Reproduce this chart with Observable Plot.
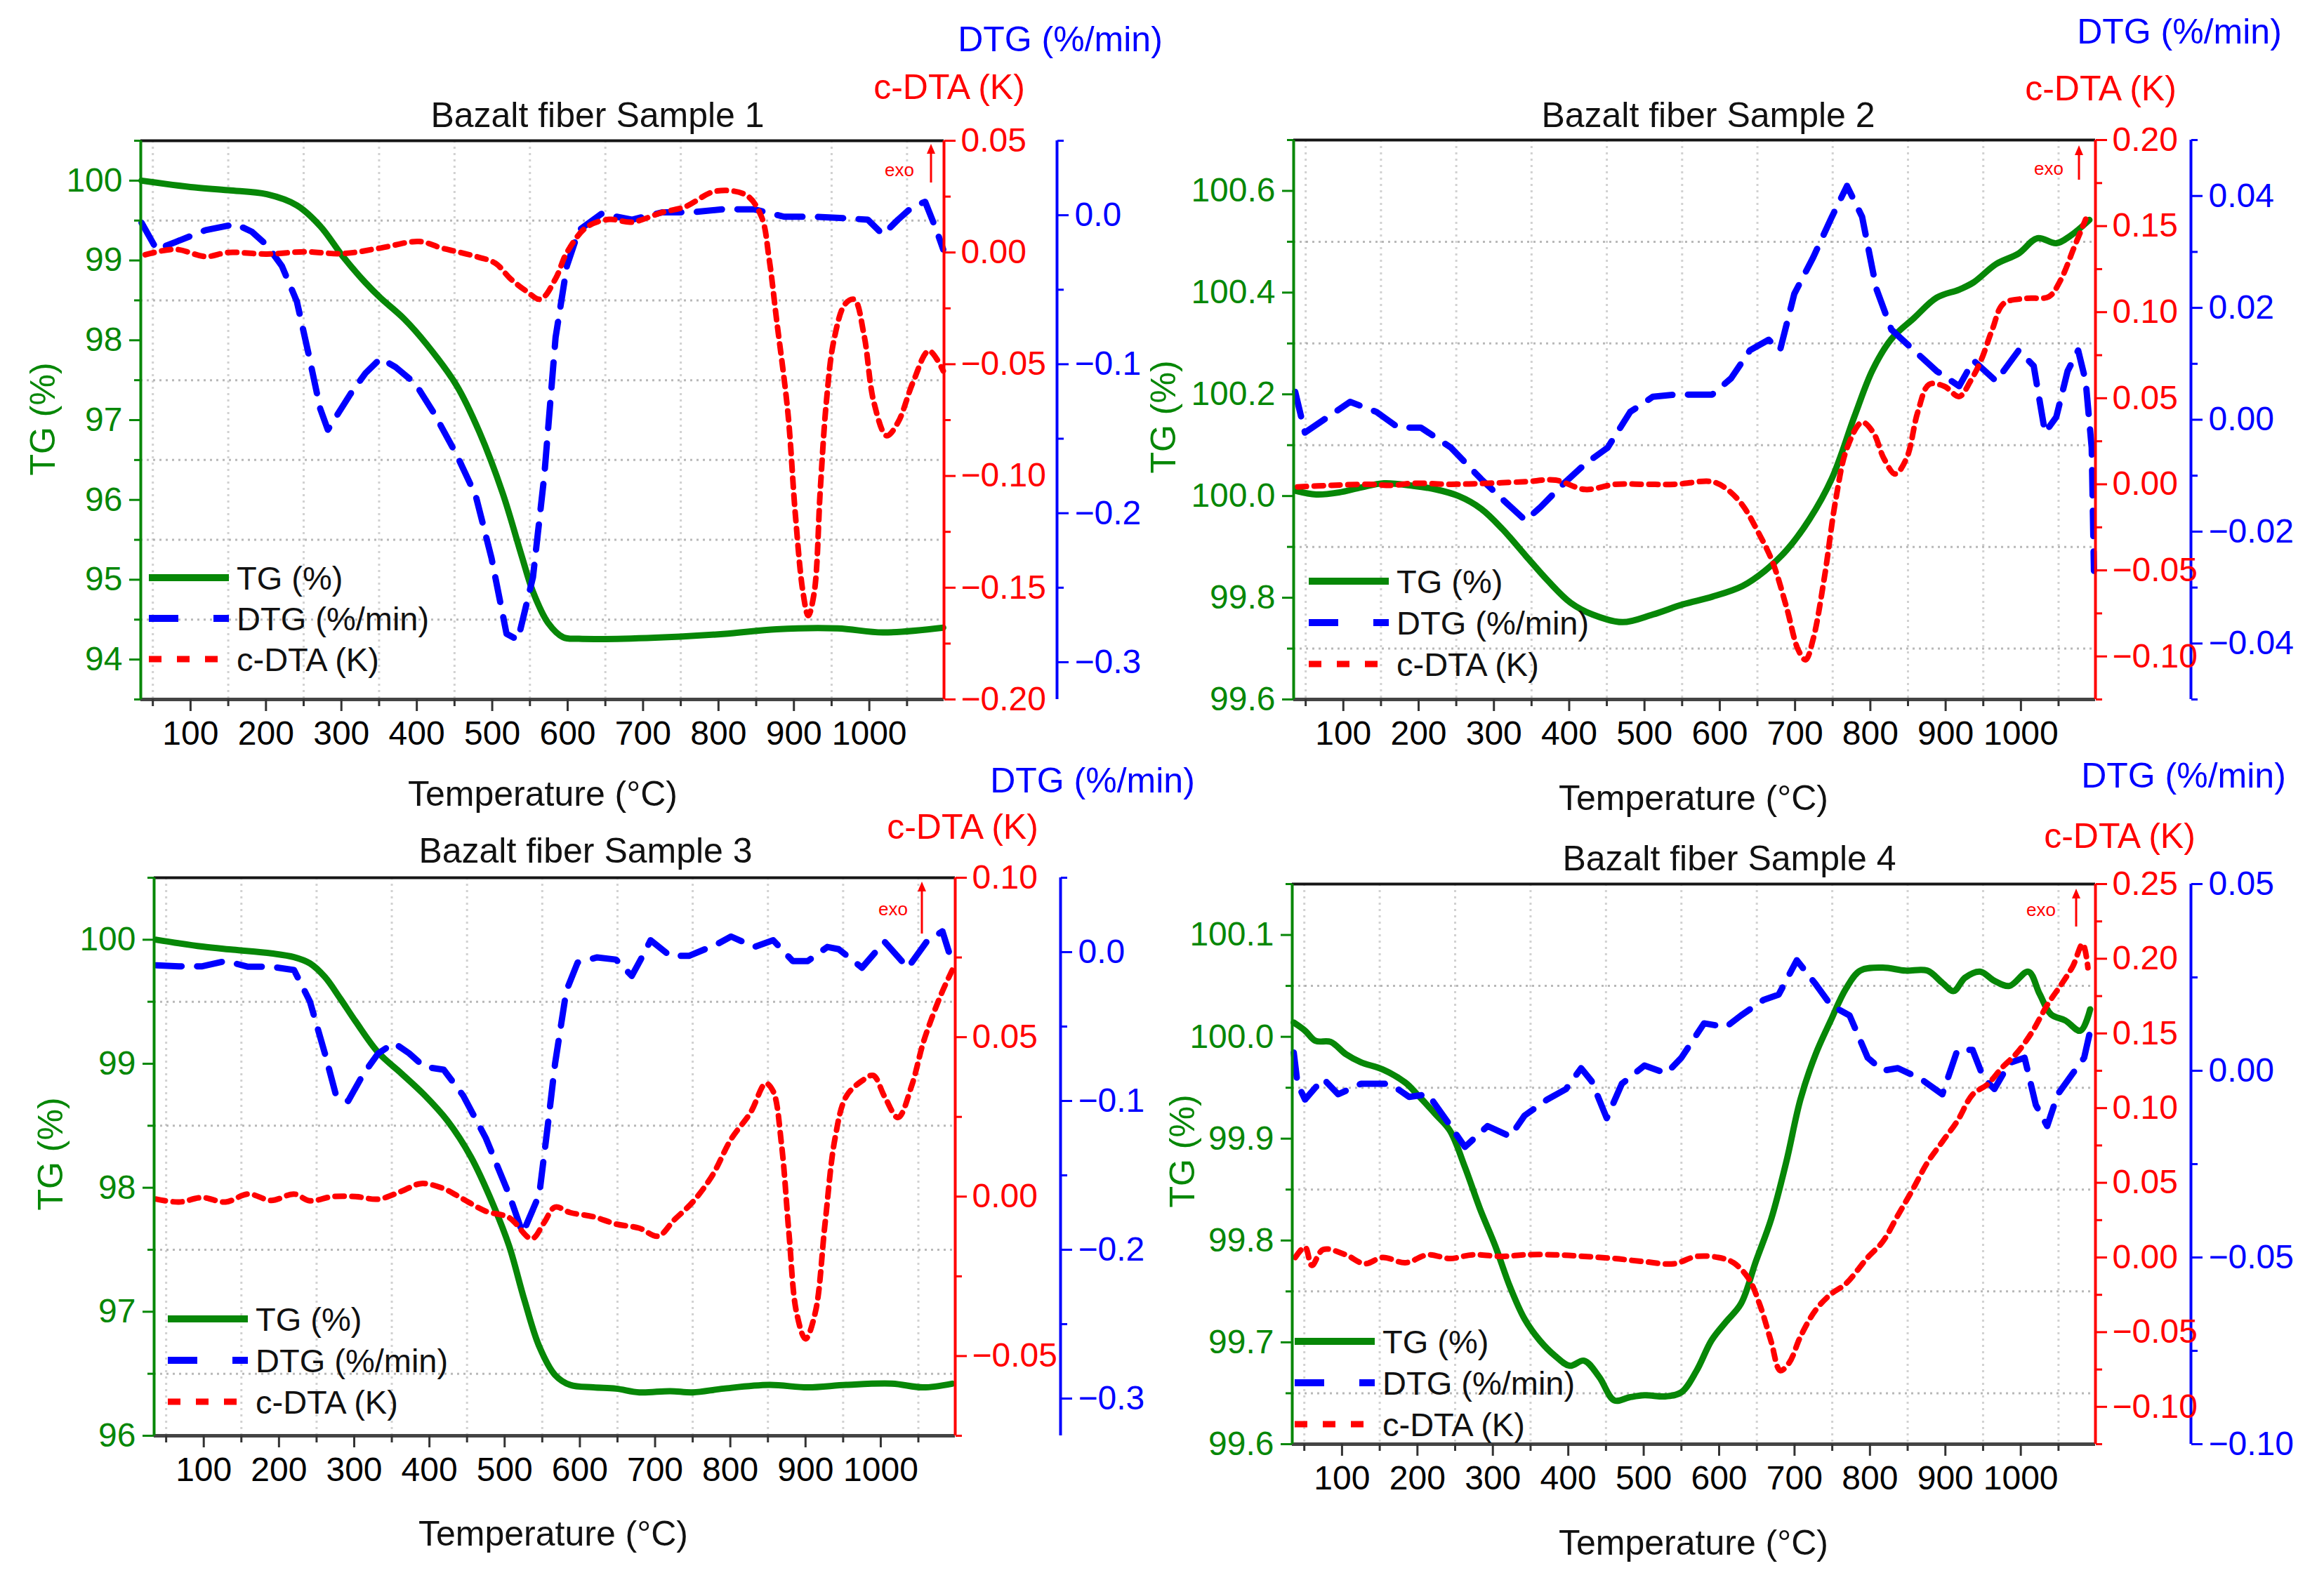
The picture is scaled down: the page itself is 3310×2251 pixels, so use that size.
<!DOCTYPE html>
<html>
<head>
<meta charset="utf-8">
<script src="https://cdn.jsdelivr.net/npm/d3@7"></script>
<script src="https://cdn.jsdelivr.net/npm/@observablehq/plot@0.6"></script>
<style>
  body { margin: 0; background: #fff; }
  #page { position: relative; width: 3310px; height: 2251px; background: #fff; overflow: hidden;
          font-family: "Liberation Sans", Arial, sans-serif; }
  #page > svg { position: absolute; }
</style>
</head>
<body>
<div id="page"></div>
<script>
// ---- Sample 1 ----
const s1TgT  = [35, 100, 150, 201, 241, 272, 302, 332, 352, 383, 413, 453, 483, 514, 539, 554, 574, 594, 615, 705, 806, 877, 958, 1018, 1098]
const s1Tg   = [100.0, 99.92, 99.88, 99.83, 99.69, 99.43, 99.05, 98.72, 98.53, 98.27, 97.95, 97.43, 96.85, 96.08, 95.3, 94.85, 94.46, 94.28, 94.26, 94.27, 94.32, 94.38, 94.39, 94.34, 94.4]
const s1DtgT = [35, 55, 80, 120, 160, 181, 201, 221, 241, 256, 272, 282, 312, 332, 352, 372, 398, 423, 453, 478, 499, 519, 534, 554, 569, 584, 599, 615, 645, 685, 726, 766, 806, 847, 887, 927, 968, 998, 1018, 1038, 1058, 1074, 1089, 1098]
const s1Dtg  = [-0.005, -0.023, -0.018, -0.01, -0.006, -0.011, -0.02, -0.034, -0.058, -0.092, -0.13, -0.144, -0.12, -0.106, -0.096, -0.102, -0.113, -0.133, -0.161, -0.188, -0.23, -0.281, -0.285, -0.243, -0.175, -0.082, -0.034, -0.01, 0.001, -0.003, 0.002, 0.002, 0.004, 0.004, -0.001, -0.001, -0.002, -0.003, -0.013, -0.003, 0.006, 0.009, -0.01, -0.023]
const s1DtaT = [40, 80, 120, 150, 201, 251, 302, 352, 403, 433, 473, 504, 524, 544, 564, 584, 599, 625, 655, 685, 726, 756, 796, 837, 857, 867, 877, 892, 902, 912, 919, 927, 935, 943, 953, 968, 980, 993, 1006, 1023, 1038, 1058, 1079, 1098]
const s1Dta  = [-0.001, 0.0014, -0.0018, 0.0, -0.0007, 0.0003, -0.0005, 0.002, 0.0049, 0.002, -0.0013, -0.0048, -0.0117, -0.017, -0.0209, -0.0117, 0.0, 0.0113, 0.0148, 0.0136, 0.018, 0.0205, 0.0274, 0.0256, 0.016, -0.0025, -0.03, -0.0716, -0.1176, -0.152, -0.1625, -0.152, -0.106, -0.067, -0.0393, -0.023, -0.021, -0.037, -0.067, -0.082, -0.076, -0.058, -0.044, -0.053]

// ---- Sample 2 ----
const s2TgT  = [37, 64, 94, 124, 154, 193, 223, 253, 283, 312, 342, 372, 402, 431, 471, 511, 551, 590, 630, 660, 689, 719, 749, 779, 803, 828, 858, 888, 918, 937, 967, 997, 1022, 1047, 1066, 1091]
const s2Tg   = [100.01, 100.003, 100.007, 100.017, 100.025, 100.02, 100.013, 100.0, 99.975, 99.934, 99.883, 99.833, 99.79, 99.767, 99.752, 99.767, 99.787, 99.802, 99.823, 99.853, 99.894, 99.954, 100.035, 100.157, 100.248, 100.309, 100.35, 100.39, 100.406, 100.42, 100.456, 100.477, 100.507, 100.497, 100.512, 100.543]
const s2DtgT = [36, 49, 74, 109, 144, 173, 203, 243, 283, 312, 342, 362, 392, 422, 451, 481, 511, 541, 590, 615, 640, 665, 680, 699, 724, 749, 769, 789, 808, 828, 858, 888, 918, 937, 967, 997, 1017, 1032, 1047, 1062, 1076, 1086, 1094, 1097]
const s2Dtg  = [0.005, -0.0023, 0.0, 0.0032, 0.0014, -0.0014, -0.0014, -0.005, -0.0106, -0.0143, -0.018, -0.0156, -0.0115, -0.0078, -0.005, 0.0014, 0.0041, 0.0045, 0.0045, 0.0074, 0.0124, 0.0143, 0.0124, 0.0225, 0.029, 0.0363, 0.0418, 0.0363, 0.0234, 0.0161, 0.0124, 0.0087, 0.006, 0.0106, 0.0069, 0.0124, 0.0096, -0.0023, 0.0005, 0.0087, 0.0124, 0.0069, -0.005, -0.027]
const s2DtaT = [39, 84, 134, 164, 193, 243, 292, 342, 382, 421, 461, 501, 541, 590, 610, 630, 650, 670, 689, 704, 714, 724, 739, 754, 769, 789, 804, 818, 833, 848, 863, 878, 898, 918, 933, 947, 962, 977, 1007, 1037, 1052, 1071, 1086]
const s2Dta  = [-0.0015, -0.0006, 0.0, -0.0006, 0.0006, 0.0, 0.0006, 0.0015, 0.0024, -0.003, 0.0, 0.0, 0.0, 0.0015, -0.003, -0.012, -0.027, -0.045, -0.072, -0.096, -0.102, -0.09, -0.054, -0.009, 0.021, 0.036, 0.03, 0.015, 0.006, 0.015, 0.042, 0.058, 0.057, 0.051, 0.06, 0.072, 0.09, 0.105, 0.108, 0.109, 0.118, 0.138, 0.154]

// ---- Sample 3 ----
const s3TgT  = [37, 98, 139, 190, 220, 241, 261, 281, 302, 332, 363, 393, 424, 455, 485, 506, 526, 546, 567, 587, 618, 648, 679, 720, 750, 791, 852, 903, 954, 1015, 1056, 1095]
const s3Tg   = [100.0, 99.945, 99.92, 99.89, 99.86, 99.81, 99.7, 99.53, 99.34, 99.09, 98.92, 98.75, 98.54, 98.25, 97.86, 97.53, 97.1, 96.72, 96.49, 96.41, 96.39, 96.38, 96.35, 96.36, 96.35, 96.38, 96.41, 96.39, 96.41, 96.42, 96.39, 96.42]
const s3DtgT = [37, 67, 98, 129, 159, 190, 220, 241, 261, 276, 292, 312, 332, 353, 373, 393, 419, 445, 475, 506, 524, 546, 557, 567, 582, 597, 623, 648, 669, 684, 694, 720, 745, 781, 801, 832, 857, 883, 903, 929, 944, 975, 1005, 1036, 1061, 1082, 1095]
const s3Dtg  = [-0.0088, -0.0095, -0.0095, -0.006, -0.0098, -0.0098, -0.012, -0.033, -0.068, -0.0965, -0.1, -0.082, -0.068, -0.061, -0.068, -0.077, -0.079, -0.0965, -0.125, -0.163, -0.189, -0.163, -0.118, -0.075, -0.026, -0.007, -0.0035, -0.005, -0.016, -0.002, 0.008, -0.0025, -0.0025, 0.005, 0.0105, 0.0035, 0.008, -0.006, -0.006, 0.0035, 0.002, -0.0105, 0.007, -0.0105, 0.007, 0.014, -0.007]
const s3DtaT = [37, 67, 98, 129, 159, 190, 220, 241, 271, 302, 332, 363, 389, 419, 445, 475, 506, 536, 552, 567, 587, 618, 648, 679, 704, 725, 750, 776, 801, 827, 847, 857, 868, 878, 888, 900, 913, 926, 939, 954, 975, 990, 1005, 1023, 1041, 1056, 1068, 1082, 1095]
const s3Dta  = [-0.0008, -0.0017, -0.0003, -0.0017, 0.0008, -0.0012, 0.0008, -0.0013, 0.0, 0.0, -0.0008, 0.0017, 0.0041, 0.0025, -0.0008, -0.0046, -0.0066, -0.0132, -0.0083, -0.0033, -0.005, -0.0063, -0.0086, -0.0099, -0.0124, -0.0074, -0.0017, 0.0066, 0.018, 0.0264, 0.0355, 0.033, 0.0165, -0.0116, -0.0363, -0.0446, -0.0363, -0.0083, 0.018, 0.0314, 0.0363, 0.038, 0.0314, 0.0248, 0.0347, 0.0479, 0.0561, 0.0644, 0.071]

// ---- Sample 4 ----
const s4TgT  = [36, 51, 65, 85, 105, 125, 154, 184, 199, 224, 243, 263, 283, 303, 323, 342, 362, 382, 402, 421, 441, 461, 481, 501, 530, 550, 570, 590, 609, 629, 649, 669, 689, 708, 728, 748, 768, 787, 817, 847, 876, 896, 911, 926, 946, 965, 985, 1010, 1025, 1040, 1059, 1079, 1092]
const s4Tg   = [100.014, 100.006, 99.996, 99.995, 99.983, 99.975, 99.968, 99.955, 99.944, 99.924, 99.908, 99.872, 99.831, 99.795, 99.754, 99.723, 99.702, 99.687, 99.677, 99.682, 99.666, 99.643, 99.646, 99.648, 99.647, 99.651, 99.672, 99.702, 99.72, 99.738, 99.78, 99.821, 99.877, 99.939, 99.983, 100.016, 100.047, 100.065, 100.068, 100.065, 100.065, 100.053, 100.045, 100.058, 100.064, 100.055, 100.05, 100.064, 100.042, 100.022, 100.016, 100.006, 100.027]
const s4DtgT = [36, 41, 51, 75, 95, 125, 164, 189, 214, 239, 263, 293, 323, 342, 372, 397, 417, 431, 451, 471, 501, 530, 550, 580, 609, 629, 659, 679, 703, 728, 748, 773, 797, 817, 837, 867, 896, 916, 936, 951, 965, 985, 1005, 1020, 1035, 1049, 1069, 1084, 1092]
const s4Dtg  = [0.0049, -0.0035, -0.0077, -0.0021, -0.0063, -0.0035, -0.0035, -0.007, -0.0063, -0.0134, -0.0204, -0.0148, -0.0176, -0.012, -0.0077, -0.0049, 0.0007, -0.0028, -0.0127, -0.0035, 0.0014, -0.0007, 0.0035, 0.0127, 0.0117, 0.0148, 0.019, 0.0204, 0.0296, 0.0232, 0.0176, 0.0148, 0.0035, 0.0, 0.0007, -0.0021, -0.0063, 0.0056, 0.0056, -0.0021, -0.0049, 0.0021, 0.0035, -0.0092, -0.0148, -0.0063, -0.0007, 0.0035, 0.0106]
const s4DtaT = [38, 51, 60, 75, 105, 130, 154, 184, 214, 243, 273, 313, 342, 382, 421, 461, 501, 540, 570, 599, 619, 639, 654, 669, 681, 693, 708, 728, 748, 768, 797, 817, 837, 857, 876, 896, 916, 936, 956, 975, 995, 1015, 1035, 1054, 1069, 1082, 1089]
const s4Dta  = [0.0, 0.007, -0.0053, 0.0053, 0.0018, -0.0042, 0.0, -0.0035, 0.0018, -0.0007, 0.0018, 0.0007, 0.0018, 0.0018, 0.0007, -0.0007, -0.0028, -0.0042, 0.0007, 0.0, -0.0035, -0.014, -0.0317, -0.0563, -0.0757, -0.0704, -0.0528, -0.0352, -0.0246, -0.0176, 0.0, 0.0106, 0.0282, 0.0458, 0.0634, 0.0775, 0.0915, 0.109, 0.116, 0.127, 0.137, 0.151, 0.169, 0.183, 0.195, 0.21, 0.194]

// ---- axes / ticks ----
const xTicks = [100, 200, 300, 400, 500, 600, 700, 800, 900, 1000]
const xMinor = [50, 150, 250, 350, 450, 550, 650, 750, 850, 950, 1050]
const xDomain = [34, 1099]

const tg1Ticks = [94, 95, 96, 97, 98, 99, 100]
const dta1Ticks = [-0.2, -0.15, -0.1, -0.05, 0, 0.05]
const dtg1Ticks = [-0.3, -0.2, -0.1, 0]
const tg2Ticks = [99.6, 99.8, 100.0, 100.2, 100.4, 100.6]
const dta2Ticks = [-0.1, -0.05, 0, 0.05, 0.1, 0.15, 0.2]
const dtg2Ticks = [-0.04, -0.02, 0, 0.02, 0.04]
const tg3Ticks = [96, 97, 98, 99, 100]
const dta3Ticks = [-0.05, 0, 0.05, 0.1]
const dtg3Ticks = [-0.3, -0.2, -0.1, 0]
const tg4Ticks = [99.6, 99.7, 99.8, 99.9, 100.0, 100.1]
const dta4Ticks = [-0.1, -0.05, 0, 0.05, 0.1, 0.15, 0.2, 0.25]
const dtg4Ticks = [-0.1, -0.05, 0, 0.05]

const GREEN = "#078707", RED = "#ff0000", BLUE = "#0000ff"
const FONT = '"Liberation Sans", Arial, sans-serif'

const panels = [
  { title: "Bazalt fiber Sample 1", tg: [s1TgT, s1Tg], dtg: [s1DtgT, s1Dtg], dta: [s1DtaT, s1Dta],
    tgDomain: [93.5, 100.5], tgTicks: tg1Ticks, tgFmt: ".0f",
    dtaDomain: [-0.2, 0.05], dtaTicks: dta1Ticks,
    dtgDomain: [-0.325, 0.05], dtgTicks: dtg1Ticks, dtgFmt: ".1f",
    frame: {left: 200, top: 200, right: 1344, bottom: 996}, blueGap: 161,
    titleAt: [851, 163], dtaAt: [1352, 123], dtgAt: [1510, 55], xAt: [773, 1130], tgAt: [60, 597],
    legendAt: [212, 823, 58], exoAt: [1281, 244, 1326, 260, 205] },
  { title: "Bazalt fiber Sample 2", tg: [s2TgT, s2Tg], dtg: [s2DtgT, s2Dtg], dta: [s2DtaT, s2Dta],
    tgDomain: [99.6, 100.7], tgTicks: tg2Ticks, tgFmt: ".1f",
    dtaDomain: [-0.125, 0.2], dtaTicks: dta2Ticks,
    dtgDomain: [-0.05, 0.05], dtgTicks: dtg2Ticks, dtgFmt: ".2f",
    frame: {left: 1842, top: 199, right: 2984, bottom: 996}, blueGap: 136,
    titleAt: [2433, 163], dtaAt: [2992, 125], dtgAt: [3104, 44], xAt: [2412, 1136], tgAt: [1656, 594],
    legendAt: [1864, 828, 59], exoAt: [2918, 242, 2961, 256, 207] },
  { title: "Bazalt fiber Sample 3", tg: [s3TgT, s3Tg], dtg: [s3DtgT, s3Dtg], dta: [s3DtaT, s3Dta],
    tgDomain: [96, 100.5], tgTicks: tg3Ticks, tgFmt: ".0f",
    dtaDomain: [-0.075, 0.1], dtaTicks: dta3Ticks,
    dtgDomain: [-0.325, 0.05], dtgTicks: dtg3Ticks, dtgFmt: ".1f",
    frame: {left: 219, top: 1250, right: 1360, bottom: 2045}, blueGap: 150,
    titleAt: [834, 1211], dtaAt: [1371, 1177], dtgAt: [1556, 1111], xAt: [788, 2184], tgAt: [71, 1644],
    legendAt: [239, 1879, 59], exoAt: [1272, 1297, 1313, 1330, 1256] },
  { title: "Bazalt fiber Sample 4", tg: [s4TgT, s4Tg], dtg: [s4DtgT, s4Dtg], dta: [s4DtaT, s4Dta],
    tgDomain: [99.6, 100.15], tgTicks: tg4Ticks, tgFmt: ".1f",
    dtaDomain: [-0.125, 0.25], dtaTicks: dta4Ticks,
    dtgDomain: [-0.1, 0.05], dtgTicks: dtg4Ticks, dtgFmt: ".2f",
    frame: {left: 1840, top: 1259, right: 2984, bottom: 2057}, blueGap: 136,
    titleAt: [2463, 1222], dtaAt: [3019, 1190], dtgAt: [3110, 1104], xAt: [2412, 2197], tgAt: [1683, 1640],
    legendAt: [1844, 1911, 59], exoAt: [2907, 1298, 2957, 1320, 1266] }
]

// half-step ticks between the major ones
function minors(ticks, domain) {
  const step = ticks[1] - ticks[0], eps = Math.abs(step) * 1e-6, out = []
  for (let v = ticks[0] - step / 2; v <= domain[1] + eps; v += step) if (v >= domain[0] - eps) out.push(v)
  return out
}

const page = d3.select('#page')

panels.forEach(p => {
  const f = p.frame, mL = 190, mT = 30, mR = 340, mB = 110
  const dtaToTg = d3.scaleLinear(p.dtaDomain, p.tgDomain)
  const dtgToTg = d3.scaleLinear(p.dtgDomain, p.tgDomain)
  const rows = ([ts, vs], map = v => v) => ts.map((t, i) => ({t, v: map(vs[i])}))
  const tgMinor = minors(p.tgTicks, p.tgDomain)
  const inside = v => v > p.tgDomain[0] + 1e-9 && v < p.tgDomain[1] - 1e-9
  const yAxis = {tickSize: 16, strokeWidth: 3, fontSize: 48, label: null}
  const yMinor = {tickSize: 9, strokeWidth: 3, tickFormat: () => "", label: null}

  let chart = Plot.plot({
    width: f.right - f.left + mL + mR,
    height: f.bottom - f.top + mT + mB,
    marginLeft: mL, marginTop: mT, marginRight: mR, marginBottom: mB,
    x: {domain: xDomain, axis: null, label: null},
    y: {domain: p.tgDomain, axis: null, label: null},
    style: {fontFamily: FONT, fontSize: "48px", background: "transparent", overflow: "visible"},
    marks: [
      Plot.gridX(xMinor.filter(t => t > xDomain[0] && t < xDomain[1]), {stroke: "#9a9a9a", strokeOpacity: 0.45, strokeWidth: 3, strokeDasharray: "3,6"}),
      Plot.gridY(tgMinor.filter(inside), {stroke: "#9a9a9a", strokeOpacity: 0.7, strokeWidth: 3, strokeDasharray: "3,6"}),
      Plot.line(rows(p.tg), {x: 't', y: 'v', stroke: GREEN, strokeWidth: 9, curve: 'catmull-rom'}),
      Plot.line(rows(p.dtg, dtgToTg), {x: 't', y: 'v', stroke: BLUE, strokeWidth: 9, strokeDasharray: "36,22"}),
      Plot.line(rows(p.dta, dtaToTg), {x: 't', y: 'v', stroke: RED, strokeWidth: 8, strokeDasharray: "13,11", curve: 'catmull-rom'}),
      Plot.ruleY([p.tgDomain[1]], {stroke: "#151515", strokeWidth: 4}),
      Plot.ruleY([p.tgDomain[0]], {stroke: "#444", strokeWidth: 5}),
      Plot.ruleX([xDomain[0]], {stroke: GREEN, strokeWidth: 4}),
      Plot.ruleX([xDomain[1]], {stroke: RED, strokeWidth: 4}),
      Plot.ruleX([xDomain[1]], {dx: p.blueGap, stroke: BLUE, strokeWidth: 4}),
      Plot.axisX(xTicks, {anchor: 'bottom', tickSize: 17, tickPadding: 13, strokeWidth: 3, stroke: "#333", fill: "black", fontSize: 48, tickFormat: d3.format('d'), label: null}),
      Plot.axisX(xMinor, {anchor: 'bottom', tickSize: 10, strokeWidth: 3, stroke: "#333", tickFormat: () => "", label: null}),
      Plot.axisY(p.tgTicks, {...yAxis, anchor: 'left', tickPadding: 10, color: GREEN, tickFormat: d3.format(p.tgFmt)}),
      Plot.axisY(tgMinor, {...yMinor, anchor: 'left', color: GREEN}),
      Plot.axisY(p.dtaTicks.map(dtaToTg), {...yAxis, anchor: 'right', tickPadding: 8, color: RED,
        tickFormat: v => d3.format('.2f')(dtaToTg.invert(v))}),
      Plot.axisY(minors(p.dtaTicks, p.dtaDomain).map(dtaToTg), {...yMinor, anchor: 'right', color: RED}),
      Plot.axisY(p.dtgTicks.map(dtgToTg), {...yAxis, anchor: 'right', dx: p.blueGap, tickPadding: 9, color: BLUE,
        tickFormat: v => d3.format(p.dtgFmt)(dtgToTg.invert(v))}),
      Plot.axisY(minors(p.dtgTicks, p.dtgDomain).map(dtgToTg), {...yMinor, anchor: 'right', dx: p.blueGap, color: BLUE}),
    ]
  })

  page.append(() => chart)
    .style('left', (f.left - mL) + 'px')
    .style('top', (f.top - mT) + 'px')
})

// titles, axis titles, legends and exo marks
const ov = page.append('svg')
  .attr('width', 3310).attr('height', 2251)
  .style('left', 0).style('top', 0)
  .style('font-family', FONT)

function label(x, y, txt, size, color, rotate) {
  const t = ov.append('text')
    .attr('text-anchor', 'middle')
    .attr('font-size', size)
    .attr('fill', color)
    .text(txt)
  if (rotate) t.attr('transform', `translate(${x + 0.36 * size},${y}) rotate(-90)`)
  else t.attr('x', x).attr('y', y + 0.36 * size)
}

panels.forEach(p => {
  label(p.titleAt[0], p.titleAt[1], p.title, 50, '#111')
  label(p.dtaAt[0], p.dtaAt[1], 'c-DTA (K)', 50, RED)
  label(p.dtgAt[0], p.dtgAt[1], 'DTG (%/min)', 50, BLUE)
  label(p.xAt[0], p.xAt[1], 'Temperature (°C)', 50, '#111')
  label(p.tgAt[0], p.tgAt[1], 'TG (%)', 50, GREEN, true)

  const [lx, ly, gap] = p.legendAt
  const items = [
    {name: 'TG (%)', stroke: GREEN, dash: null, w: 10},
    {name: 'DTG (%/min)', stroke: BLUE, dash: '42,50,22', w: 10},
    {name: 'c-DTA (K)', stroke: RED, dash: '18,22', w: 9},
  ]
  items.forEach((it, i) => {
    const y = ly + i * gap
    ov.append('line').attr('x1', lx).attr('x2', lx + 114).attr('y1', y).attr('y2', y)
      .attr('stroke', it.stroke).attr('stroke-width', it.w).attr('stroke-dasharray', it.dash)
    ov.append('text').attr('x', lx + 125).attr('y', y + 0.36 * 47)
      .attr('font-size', 47).attr('fill', '#111').text(it.name)
  })

  const [ex, ey, ax, ay1, ay2] = p.exoAt
  ov.append('text').attr('x', ex).attr('y', ey + 0.26 * 26).attr('text-anchor', 'middle')
    .attr('font-size', 26).attr('fill', RED).text('exo')
  ov.append('line').attr('x1', ax).attr('x2', ax).attr('y1', ay1).attr('y2', ay2 + 10)
    .attr('stroke', RED).attr('stroke-width', 3)
  ov.append('path').attr('d', `M${ax - 6},${ay2 + 14}L${ax},${ay2}L${ax + 6},${ay2 + 14}Z`).attr('fill', RED)
})
</script>
</body>
</html>
